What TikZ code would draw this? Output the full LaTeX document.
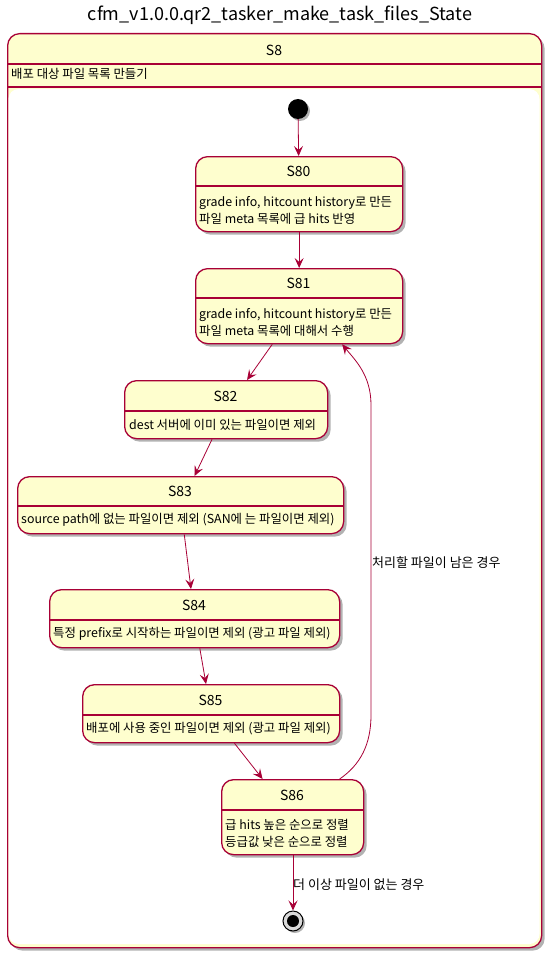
\documentclass[tikz,border=0pt]{standalone}
\usepackage{fontspec}
\setmainfont{Noto Sans CJK KR}
\usetikzlibrary{arrows.meta,shadows}
\definecolor{umlfill}{HTML}{FEFECE}
\definecolor{umlline}{HTML}{A80036}
\tikzset{
    every node/.style={
        text=black
    },
    state/.style={
        draw=umlline, fill=umlfill, line width=1.3pt, rounded corners=12pt,
        inner sep=0pt, anchor=north west,
        drop shadow={shadow xshift=3pt, shadow yshift=-3pt, opacity=0.3, fill=black}
    },
    sname/.style={font=\fontsize{14}{16}\selectfont, inner sep=0pt},
    sdesc/.style={font=\fontsize{12.4}{17}\selectfont, inner sep=0pt, anchor=west, align=left},
    sep/.style={draw=umlline, line width=1.1pt},
    trans/.style={draw=umlline, line width=0.8pt, -{Stealth[length=10pt, width=9pt, inset=4pt]}},
    tlabel/.style={font=\fontsize{13}{15}\selectfont, inner sep=0pt, anchor=west}
}

\begin{document}
\begin{tikzpicture}[x=1pt, y=-1pt]
\useasboundingbox (0,0) rectangle (551,955);

\node[font=\fontsize{18}{20}\selectfont, inner sep=0pt] (title) at (280,15) {cfm\_v1.0.0.qr2\_tasker\_make\_task\_files\_State};

% composite state S8
\node[state, minimum width=534pt, minimum height=914pt] (S8) at (7,33) {};
\fill[white, rounded corners=10pt] (8.5,89) rectangle (539.5,944);
\draw[sep] (7,64) -- (541,64);
\draw[sep] (7,87) -- (541,87);
\node[sname] (S8n) at (274,50) {S8};
\node[sdesc] (S8d) at (11,74) {배포 대상 파일 목록 만들기};

% initial
\node[circle, fill=black, minimum size=20pt, inner sep=0pt,
      drop shadow={shadow xshift=2pt, shadow yshift=-2pt, opacity=0.3, fill=black}] (init) at (298,109) {};

% states
\node[state, minimum width=207pt, minimum height=75pt] (S80) at (195,156) {};
\node[sname] (S80n) at (298.5,171) {S80};
\draw[sep] (195,186) -- (402,186);
\node[sdesc] (S80d) at (199,210.5) {grade info, hitcount history로 만든\\파일 meta 목록에 급 hits 반영};

\node[state, minimum width=207pt, minimum height=75pt] (S81) at (195,268) {};
\node[sname] (S81n) at (298.5,283) {S81};
\draw[sep] (195,298) -- (402,298);
\node[sdesc] (S81d) at (199,322) {grade info, hitcount history로 만든\\파일 meta 목록에 대해서 수행};

\node[state, minimum width=203pt, minimum height=58pt] (S82) at (124,380) {};
\node[sname] (S82n) at (225.5,396) {S82};
\draw[sep] (124,411) -- (327,411);
\node[sdesc] (S82d) at (129,424.5) {dest 서버에 이미 있는 파일이면 제외};

\node[state, minimum width=326pt, minimum height=57pt] (S83) at (17,476) {};
\node[sname] (S83n) at (180,491) {S83};
\draw[sep] (17,506) -- (343,506);
\node[sdesc] (S83d) at (21,520) {source path에 없는 파일이면 제외 (SAN에 는 파일이면 제외)};

\node[state, minimum width=290pt, minimum height=58pt] (S84) at (49,589) {};
\node[sname] (S84n) at (194,605) {S84};
\draw[sep] (49,620) -- (339,620);
\node[sdesc] (S84d) at (53,633.5) {특정 prefix로 시작하는 파일이면 제외 (광고 파일 제외)};

\node[state, minimum width=257pt, minimum height=58pt] (S85) at (82,684) {};
\node[sname] (S85n) at (210.5,700) {S85};
\draw[sep] (82,715) -- (339,715);
\node[sdesc] (S85d) at (86,728.5) {배포에 사용 중인 파일이면 제외 (광고 파일 제외)};

\node[state, minimum width=142pt, minimum height=75pt] (S86) at (221,779) {};
\node[sname] (S86n) at (292,795) {S86};
\draw[sep] (221,810) -- (363,810);
\node[sdesc] (S86d) at (225,833) {급 hits 높은 순으로 정렬\\등급값 낮은 순으로 정렬};

% final
\node[circle, draw=black, fill=black!15, line width=1pt, minimum size=20pt, inner sep=0pt,
      drop shadow={shadow xshift=2pt, shadow yshift=-2pt, opacity=0.3, fill=black}] (final) at (293,921) {};
\node[circle, fill=black, minimum size=12pt, inner sep=0pt] (finalc) at (final) {};

% transitions
\draw[trans] (init) -- (S80);
\draw[trans] (S80) -- (S81);
\draw[trans] (S81) -- (S82);
\draw[trans] (S82) -- (S83);
\draw[trans] (S83) -- (S84);
\draw[trans] (S84) -- (S85);
\draw[trans] (S85) -- (S86);
\draw[trans] (S86.south -| final) -- (final);
\draw[trans] ([xshift=47pt]S86.north) .. controls (360,765) and (371,745) .. (371,715)
    -- (371,405) .. controls (371,375) and (355,360) .. ([xshift=43pt]S81.south);

\node[tlabel] (lmore) at (372,563) {처리할 파일이 남은 경우};
\node[tlabel] (lnone) at (293,885) {더 이상 파일이 없는 경우};

\end{tikzpicture}
\end{document}
